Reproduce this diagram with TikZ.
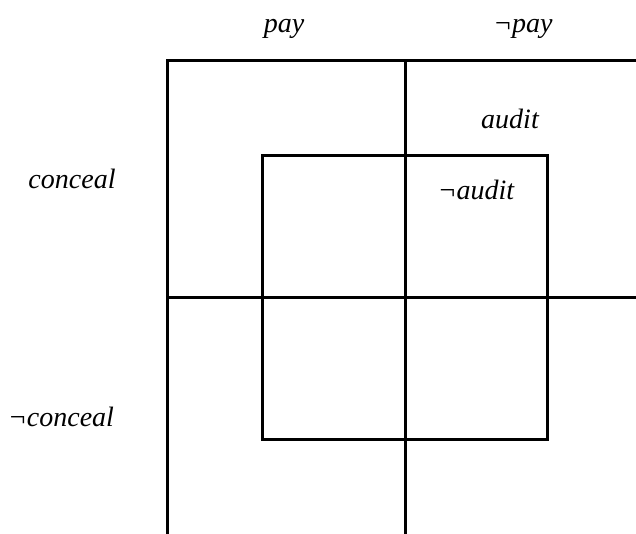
\documentclass[tikz,border=0pt]{standalone}
\usepackage{fontspec}
\setmainfont{Liberation Serif}
\begin{document}
\begin{tikzpicture}[x=1pt,y=-1pt,
  grid/.style={line width=3pt,line cap=rect},
  lbl/.style={font=\fontsize{28}{32}\selectfont\itshape,anchor=base,inner sep=0pt}]
\useasboundingbox (0,0) rectangle (636,533);
% outer grid
\draw[grid] (640,60) -- (167,60) -- (167,540);
\draw[grid] (405,60) -- (405,540);
\draw[grid] (167,297) -- (640,297);
% inner square
\draw[grid] (262,155) rectangle (547,439);
% labels
\node[lbl] (pay) at (284,32) {pay};
\node[lbl] (npay) at (523,32) {¬pay};
\node[lbl] (audit) at (510,128) {audit};
\node[lbl] (naudit) at (476,199) {¬audit};
\node[lbl] (conceal) at (72,188) {conceal};
\node[lbl] (nconceal) at (61,426) {¬conceal};
\end{tikzpicture}
\end{document}
